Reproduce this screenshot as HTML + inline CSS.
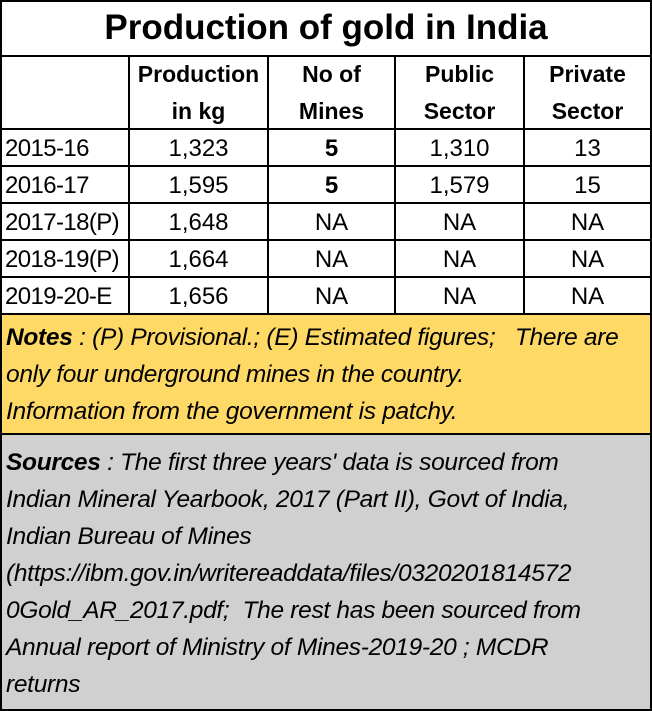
<!DOCTYPE html>
<html><head><meta charset="utf-8"><style>
body{margin:0;width:652px;height:711px;position:relative;background:#fff;font-family:"Liberation Sans",sans-serif;color:#000;overflow:hidden}
.a{position:absolute}
.h{position:absolute;height:2px;background:#000}
.v{position:absolute;width:2px;background:#000}
.c{position:absolute;font-size:24px;text-align:center;line-height:37px;white-space:nowrap}
.hd{font-weight:bold;line-height:37px;font-size:23px}
.note{position:absolute;left:6px;right:2px;font-size:24.5px;font-style:italic;line-height:37px;white-space:nowrap;letter-spacing:-0.3px}
</style></head><body>
<div class="a" style="left:1px;top:315px;width:650px;height:120px;background:#FFD966"></div>
<div class="a" style="left:1px;top:435px;width:650px;height:276px;background:#D0D0D0"></div>
<div class="a" style="left:0;top:8px;width:652px;text-align:center;font-size:35px;font-weight:bold;white-space:nowrap">Production of gold in India</div>
<div class="h" style="left:0;top:0;width:652px"></div>
<div class="h" style="left:0;top:55px;width:652px"></div>
<div class="h" style="left:0;top:128px;width:652px"></div>
<div class="h" style="left:0;top:165px;width:652px"></div>
<div class="h" style="left:0;top:202px;width:652px"></div>
<div class="h" style="left:0;top:239px;width:652px"></div>
<div class="h" style="left:0;top:276px;width:652px"></div>
<div class="h" style="left:0;top:313px;width:652px"></div>
<div class="h" style="left:0;top:433px;width:652px"></div>
<div class="h" style="left:0;top:709px;width:652px"></div>
<div class="v" style="left:0;top:0;height:711px"></div>
<div class="v" style="left:650px;top:0;height:711px"></div>
<div class="v" style="left:128px;top:55px;height:259px"></div>
<div class="v" style="left:267px;top:55px;height:259px"></div>
<div class="v" style="left:394px;top:55px;height:259px"></div>
<div class="v" style="left:523px;top:55px;height:259px"></div>
<div class="c hd" style="left:130px;top:56px;width:137px">Production<br>in kg</div>
<div class="c hd" style="left:269px;top:56px;width:125px">No of<br>Mines</div>
<div class="c hd" style="left:396px;top:56px;width:127px">Public<br>Sector</div>
<div class="c hd" style="left:525px;top:56px;width:125px">Private<br>Sector</div>
<div id="rows"></div>
<div class="note" style="top:319px"><b>Notes</b> : (P) Provisional.; (E) Estimated figures;&nbsp;&nbsp; There are<br>only four underground mines in the country.<br>Information from the government is patchy.</div>
<div class="note" style="top:444px"><b>Sources</b> : The first three years' data is sourced from<br>Indian Mineral Yearbook, 2017 (Part II), Govt of India,<br>Indian Bureau of Mines<br>(https://ibm.gov.in/writereaddata/files/0320201814572<br>0Gold_AR_2017.pdf;&nbsp; The rest has been sourced from<br>Annual report of Ministry of Mines-2019-20 ; MCDR<br>returns</div>
<script>
const years=["2015-16","2016-17","2017-18(P)","2018-19(P)","2019-20-E"];
const production=["1,323","1,595","1,648","1,664","1,656"];
const mines=["5","5","NA","NA","NA"];
const publicSector=["1,310","1,579","NA","NA","NA"];
const privateSector=["13","15","NA","NA","NA"];
const cols=[[2,126,'left'],[130,137,'center'],[269,125,'center'],[396,127,'center'],[525,125,'center']];
const host=document.getElementById('rows');
years.forEach((y,i)=>{
  const vals=[y,production[i],mines[i],publicSector[i],privateSector[i]];
  vals.forEach((v,j)=>{
    const d=document.createElement('div');
    
    
    d.className='c';
    d.style.left=(cols[j][0]+(j==0?3:0))+'px';
    d.style.width=cols[j][1]+'px';
    d.style.textAlign=cols[j][2];
    d.style.top=(130+i*37)+'px';
    if(j==0)d.style.letterSpacing='-0.6px';
    if(j==2&&v!=='NA')d.style.fontWeight='bold';
    d.textContent=v;
    host.appendChild(d);
  });
});
</script>
</body></html>
